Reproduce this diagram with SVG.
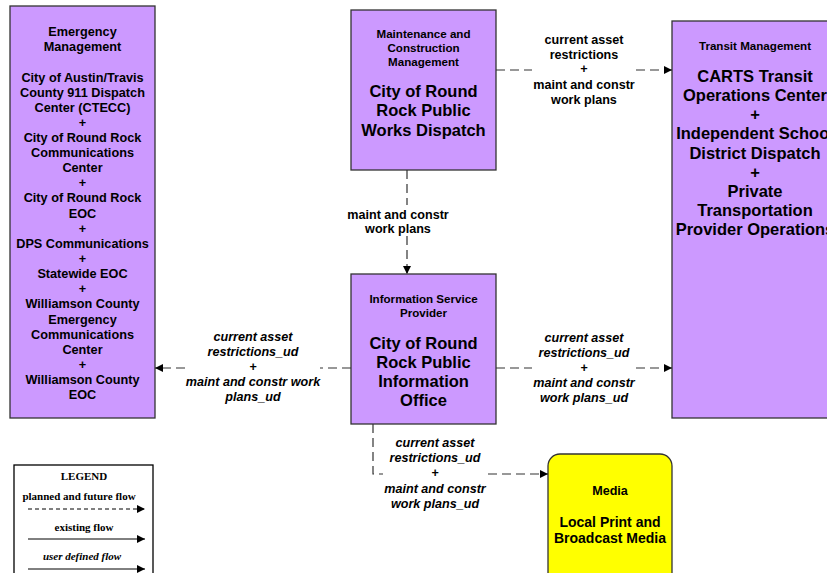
<svg xmlns="http://www.w3.org/2000/svg" width="827" height="573" viewBox="0 0 827 573">
<defs>
<style>
.node{fill:#CC99FF;stroke:#333;stroke-width:1.3}
.media{fill:#FFFF00;stroke:#333;stroke-width:1.3}
text{font-family:"Liberation Sans",Arial,sans-serif;font-weight:bold;fill:#000;text-anchor:middle}
.h{font-size:11.6px}
.b{font-size:16.5px}
.e{font-size:12.7px}
.l{font-size:12.6px}
.i{font-size:12.6px;font-style:italic}
.flow{fill:none;stroke:#333;stroke-width:1.2;stroke-dasharray:9,5}
.lg{font-family:"Liberation Serif","Times New Roman",serif;font-size:11px}
</style>
<marker id="arr" viewBox="0 0 10 10" refX="10" refY="5" markerWidth="8" markerHeight="8" markerUnits="userSpaceOnUse" orient="auto">
<path d="M0,0 L10,5 L0,10 Z" fill="#000"/>
</marker>
</defs>
<rect width="827" height="573" fill="#fff"/>

<g id="emergency">
<rect class="node" x="10" y="6" width="145" height="412"/>
<text class="e" x="82.5" y="36">Emergency</text>
<text class="e" x="82.5" y="51">Management</text>
<text class="e" x="82.5" y="82">City of Austin/Travis</text>
<text class="e" x="82.5" y="97">County 911 Dispatch</text>
<text class="e" x="82.5" y="112">Center (CTECC)</text>
<text class="e" x="82.5" y="127">+</text>
<text class="e" x="82.5" y="142">City of Round Rock</text>
<text class="e" x="82.5" y="157">Communications</text>
<text class="e" x="82.5" y="172">Center</text>
<text class="e" x="82.5" y="187">+</text>
<text class="e" x="82.5" y="202">City of Round Rock</text>
<text class="e" x="82.5" y="218">EOC</text>
<text class="e" x="82.5" y="233">+</text>
<text class="e" x="82.5" y="248">DPS Communications</text>
<text class="e" x="82.5" y="263">+</text>
<text class="e" x="82.5" y="278">Statewide EOC</text>
<text class="e" x="82.5" y="293">+</text>
<text class="e" x="82.5" y="308">Williamson County</text>
<text class="e" x="82.5" y="324">Emergency</text>
<text class="e" x="82.5" y="339">Communications</text>
<text class="e" x="82.5" y="354">Center</text>
<text class="e" x="82.5" y="369">+</text>
<text class="e" x="82.5" y="384">Williamson County</text>
<text class="e" x="82.5" y="399">EOC</text>
</g>

<g id="maintenance">
<rect class="node" x="351" y="10" width="145" height="160"/>
<text class="h" x="423.5" y="38">Maintenance and</text>
<text class="h" x="423.5" y="52">Construction</text>
<text class="h" x="423.5" y="66">Management</text>
<text class="b" x="423.5" y="97">City of Round</text>
<text class="b" x="423.5" y="116">Rock Public</text>
<text class="b" x="423.5" y="136">Works Dispatch</text>
</g>

<g id="transit">
<rect class="node" x="672" y="21" width="166" height="397"/>
<text class="h" x="755" y="50">Transit Management</text>
<text class="b" x="755" y="82">CARTS Transit</text>
<text class="b" x="755" y="101">Operations Center</text>
<text class="b" x="755" y="120">+</text>
<text class="b" x="755" y="139">Independent School</text>
<text class="b" x="755" y="159">District Dispatch</text>
<text class="b" x="755" y="178">+</text>
<text class="b" x="755" y="197">Private</text>
<text class="b" x="755" y="216">Transportation</text>
<text class="b" x="755" y="235">Provider Operations</text>
</g>

<g id="isp">
<rect class="node" x="351" y="274" width="145" height="150"/>
<text class="h" x="423.5" y="303">Information Service</text>
<text class="h" x="423.5" y="317">Provider</text>
<text class="b" x="423.5" y="349">City of Round</text>
<text class="b" x="423.5" y="368">Rock Public</text>
<text class="b" x="423.5" y="387">Information</text>
<text class="b" x="423.5" y="406">Office</text>
</g>

<g id="media">
<rect class="media" x="548" y="454" width="124" height="140" rx="12" ry="12"/>
<text class="l" x="610" y="495">Media</text>
<text class="b" x="610" y="527" style="font-size:14px">Local Print and</text>
<text class="b" x="610" y="543" style="font-size:14px">Broadcast Media</text>
</g>

<g id="connectors">
<path class="flow" d="M496,70 L532,70 M636,70 L672,70" marker-end="url(#arr)"/>
<text class="l" x="584" y="44">current asset</text>
<text class="l" x="584" y="59">restrictions</text>
<text class="l" x="584" y="73">+</text>
<text class="l" x="584" y="89">maint and constr</text>
<text class="l" x="584" y="104">work plans</text>

<path class="flow" d="M407,170 L407,205 M407,236 L407,274" marker-end="url(#arr)"/>
<text class="l" x="398" y="219">maint and constr</text>
<text class="l" x="398" y="233">work plans</text>

<path class="flow" d="M351,368 L320,368 M185,368 L155,368" marker-end="url(#arr)"/>
<text class="i" x="253" y="341">current asset</text>
<text class="i" x="253" y="356">restrictions_ud</text>
<text class="i" x="253" y="371">+</text>
<text class="i" x="253" y="386">maint and constr work</text>
<text class="i" x="253" y="401">plans_ud</text>

<path class="flow" d="M496,368 L532,368 M636,368 L672,368" marker-end="url(#arr)"/>
<text class="i" x="584" y="342">current asset</text>
<text class="i" x="584" y="357">restrictions_ud</text>
<text class="i" x="584" y="372">+</text>
<text class="i" x="584" y="387">maint and constr</text>
<text class="i" x="584" y="402">work plans_ud</text>

<path class="flow" d="M373,424 L373,474 L383,474 M488,474 L548,474" marker-end="url(#arr)"/>
<text class="i" x="435" y="447">current asset</text>
<text class="i" x="435" y="462">restrictions_ud</text>
<text class="i" x="435" y="477">+</text>
<text class="i" x="435" y="493">maint and constr</text>
<text class="i" x="435" y="508">work plans_ud</text>
</g>

<g id="legend">
<rect x="14" y="465" width="139" height="120" fill="#fff" stroke="#000" stroke-width="1.3"/>
<text class="lg" x="84" y="480">LEGEND</text>
<text class="lg" x="79" y="500">planned and future flow</text>
<path d="M28,509 L145,509" fill="none" stroke="#000" stroke-width="1" stroke-dasharray="4,3" marker-end="url(#arr)"/>
<text class="lg" x="84" y="531">existing flow</text>
<path d="M28,539 L145,539" fill="none" stroke="#000" stroke-width="1" marker-end="url(#arr)"/>
<text class="lg" x="82" y="560" style="font-style:italic">user defined flow</text>
<path d="M28,569 L145,569" fill="none" stroke="#000" stroke-width="1" marker-end="url(#arr)"/>
</g>
</svg>
